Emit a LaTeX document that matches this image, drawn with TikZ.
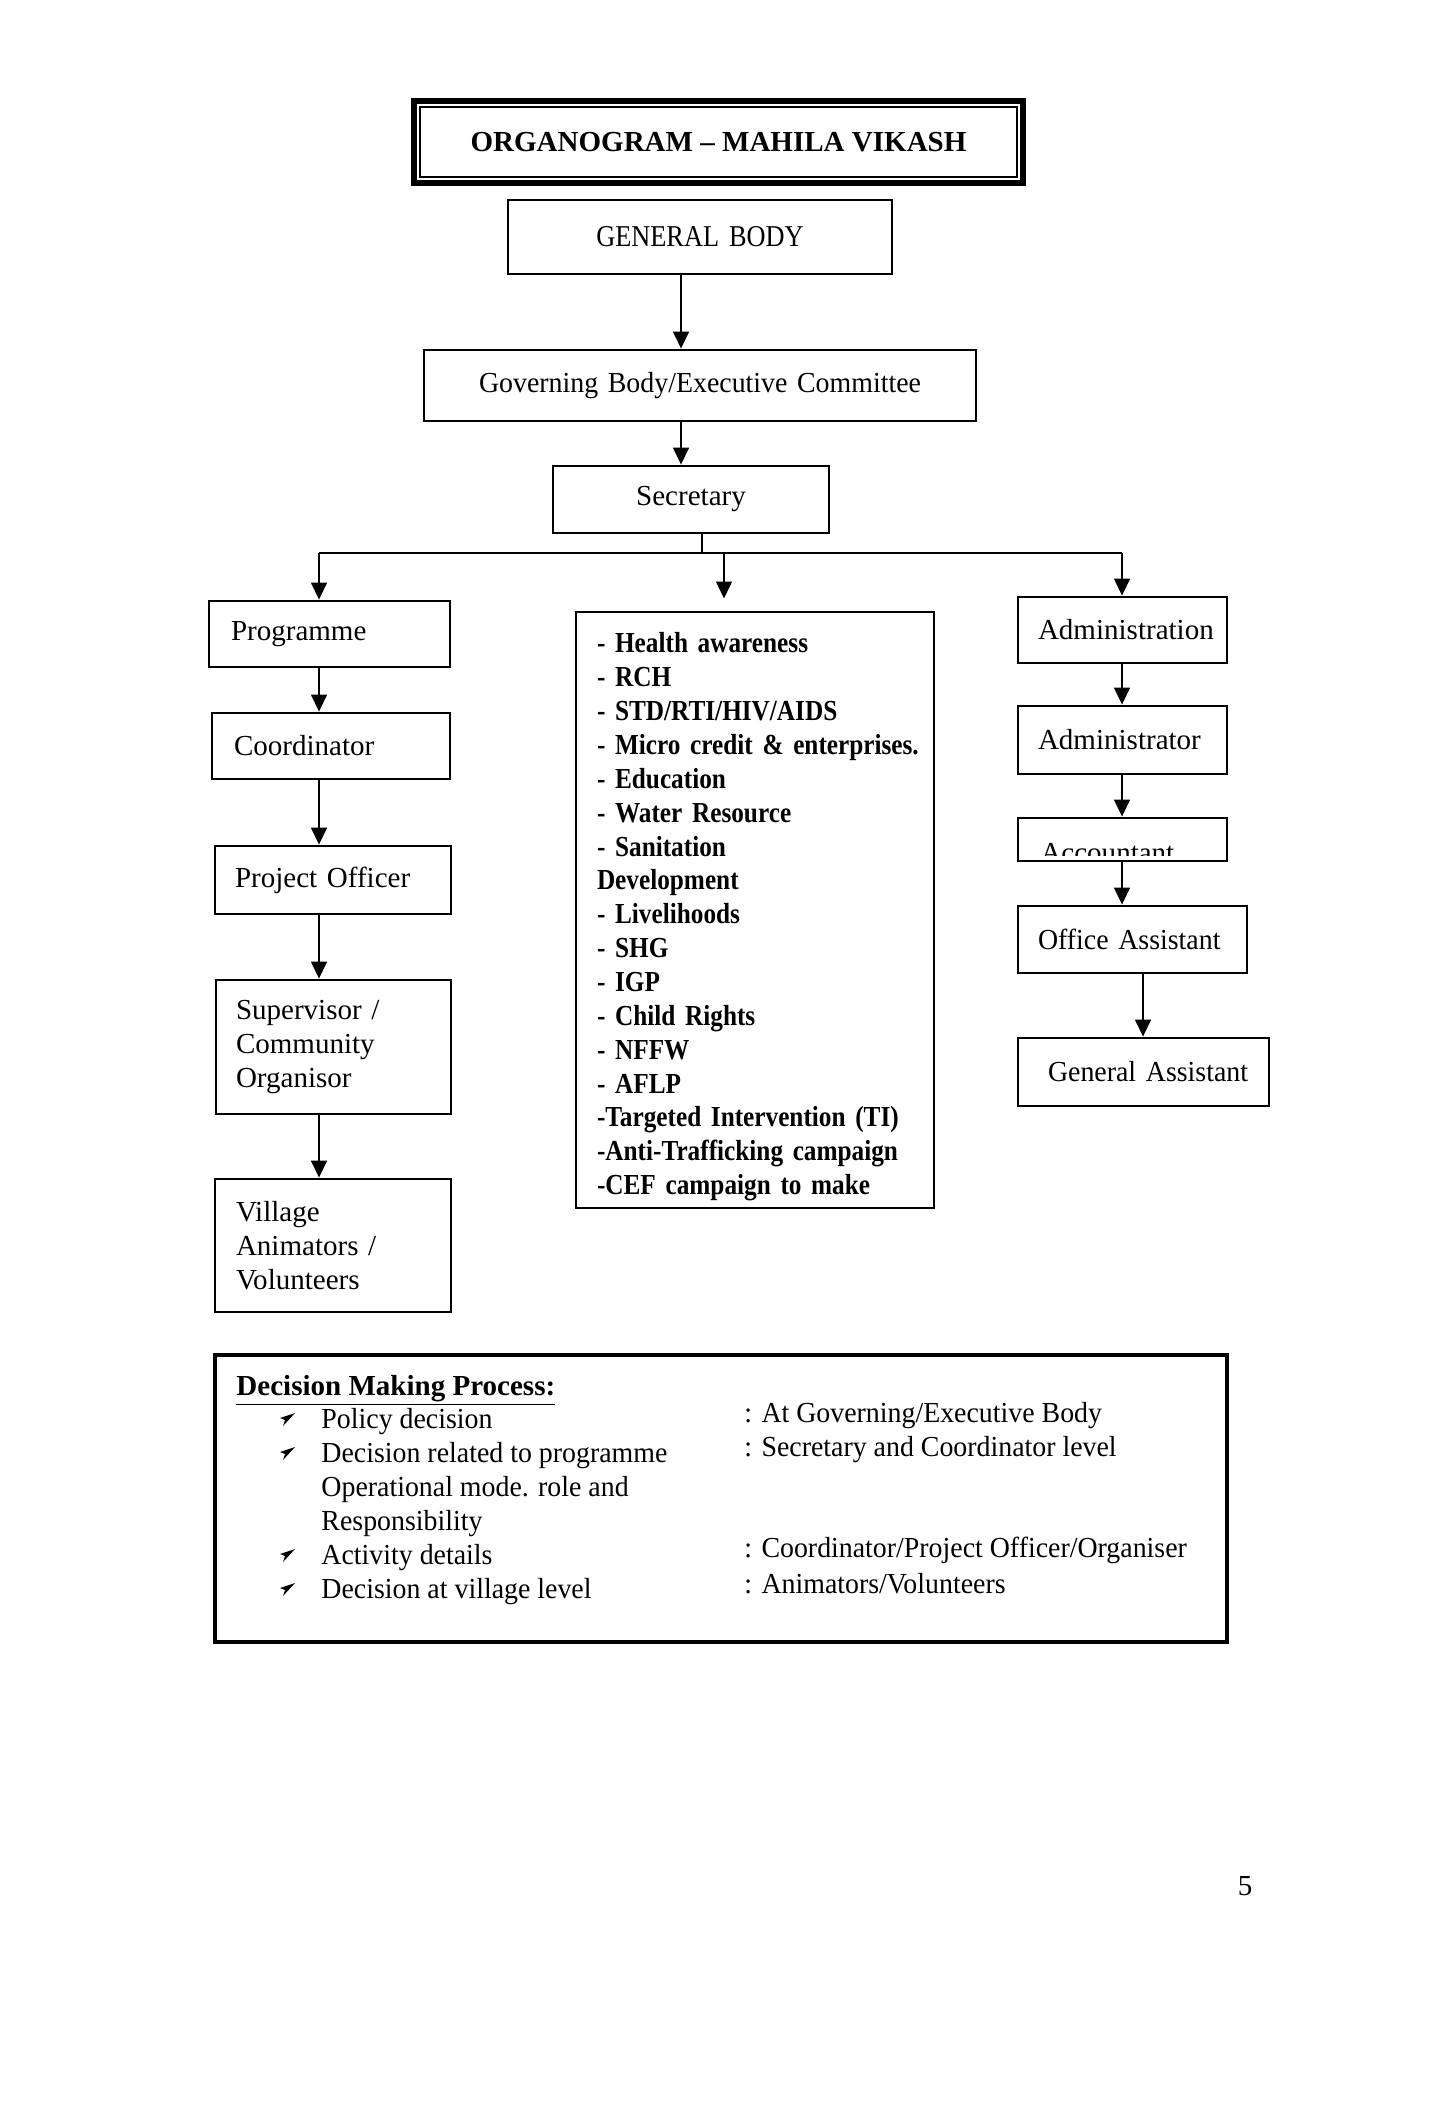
\documentclass[tikz,border=0pt]{standalone}
\usepackage{fontspec}
\setmainfont{Liberation Serif}
\newfontfamily\narrowfont{Liberation Serif}[FakeStretch=0.87]
\newfontfamily\decfont{Liberation Serif}[FakeStretch=0.96]
\usetikzlibrary{arrows.meta}
\newcommand\orgline[1]{\mbox{#1}}
\newcommand\mkbox[8]{% #1 extra style, #2 name, #3 x1, #4 y1, #5 x2, #6 y2, #7 inset, #8 text
  \pgfmathsetmacro\bxw{(#5-#3)*0.4134}%
  \pgfmathsetmacro\bxh{(#6-#4)*0.4134}%
  \pgfmathsetmacro\bxt{(#5-#3-2*#7)*0.4134}%
  \node[orgbox, minimum width=\bxw pt, minimum height=\bxh pt, text width=\bxt pt, #1]
    (#2) at ({(#3+#5)/2},{(#4+#6)/2}) {#8};}
\begin{document}
\begin{tikzpicture}[x=0.4134pt, y=-0.4134pt,
  orgbox/.style={draw, line width=1.1pt, inner sep=0pt, align=left,
    font=\fontsize{12}{14}\selectfont,
    execute at begin node={\hyphenpenalty=10000\exhyphenpenalty=10000\hbadness=10000}},
  ctr/.style={align=center},
  ln/.style={line width=1.1pt},
  arr/.style={line width=1.1pt, -{Triangle[width=6.4pt,length=7pt]}},
  dtext/.style={anchor=base west, inner sep=0pt, font=\decfont\fontsize{12}{14}\selectfont},
  bullet/.style={fill=black}
]
\useasboundingbox[fill=white] (0,0) rectangle (1440,2118);

% title
\node[draw, line width=2.4pt, minimum width=251.8pt, minimum height=33.9pt,
  font=\bfseries\fontsize{12}{14}\selectfont] (title) at (718.5,142) {ORGANOGRAM -- MAHILA VIKASH};
\draw[line width=0.8pt] ([shift={(9,9)}]title.north west) rectangle ([shift={(-9,-9)}]title.south east);

% top chain
\mkbox{ctr, font=\narrowfont\fontsize{12.5}{14}\selectfont}{gb}{508}{200}{892}{274}{0}{\orgline{GENERAL BODY}}
\mkbox{ctr, font=\decfont\fontsize{12}{14}\selectfont}{gov}{424}{350}{976}{421}{0}{\orgline{Governing Body/Executive Committee}}
\mkbox{ctr}{sec}{553}{466}{829}{533}{0}{\orgline{Secretary}}

\coordinate (colC) at (681,0);
\draw[arr] (gb.south -| colC) -- (gov.north -| colC);
\draw[arr] (gov.south -| colC) -- (sec.north -| colC);

% left column
\mkbox{}{prog}{209}{601}{450}{667}{22}{\orgline{Programme}}
\mkbox{}{coord}{212}{713}{450}{779}{22}{\orgline{Coordinator}}
\mkbox{}{po}{215}{846}{451}{914}{20}{\orgline{Project Officer}}
\mkbox{}{sup}{216}{980}{451}{1114}{20}{\orgline{Supervisor /}\\\orgline{Community}\\\orgline{Organisor}}
\mkbox{}{vil}{215}{1179}{451}{1312}{21}{\orgline{Village}\\\orgline{Animators /}\\\orgline{Volunteers}}

% middle box
\mkbox{font=\narrowfont\bfseries\fontsize{12}{14}\selectfont}{mid}{576}{612}{934}{1208}{21}{%
\rule{0pt}{14pt}\orgline{- Health awareness}\\
\orgline{- RCH}\\
\orgline{- STD/RTI/HIV/AIDS}\\
\orgline{- Micro credit \& enterprises.}\\
\orgline{- Education}\\
\orgline{- Water Resource}\\
\orgline{- Sanitation}\\
\orgline{Development}\\
\orgline{- Livelihoods}\\
\orgline{- SHG}\\
\orgline{- IGP}\\
\orgline{- Child Rights}\\
\orgline{- NFFW}\\
\orgline{- AFLP}\\
\orgline{-Targeted Intervention (TI)}\\
\orgline{-Anti-Trafficking campaign}\\
\orgline{-CEF campaign to make}}

% right column
\mkbox{}{adm}{1018}{597}{1227}{663}{20}{\orgline{Administration}}
\mkbox{}{admr}{1018}{706}{1227}{774}{20}{\orgline{Administrator}}
\mkbox{}{acc}{1018}{818}{1227}{861}{0}{}
\begin{scope}
  \clip (1020,820) rectangle (1225,855);
  \node[anchor=base west, inner sep=0pt, font=\fontsize{12}{14}\selectfont] (acctext) at (1040,862) {Accountant};
\end{scope}
\mkbox{font=\decfont\fontsize{12}{14}\selectfont}{oa}{1018}{906}{1247}{973}{20}{\orgline{Office Assistant}}
\mkbox{font=\decfont\fontsize{12}{14}\selectfont}{ga}{1018}{1038}{1269}{1106}{30}{\orgline{General Assistant}}

% bus
\coordinate (busL) at (319,553);
\coordinate (busR) at (1122,553);
\coordinate (busM) at (724,553);
\coordinate (secS) at (702,553);
\draw[ln] (busL) -- (busR);
\draw[ln] (sec.south -| secS) -- (secS);
\draw[arr] (busL) -- (busL |- prog.north);
\draw[arr, shorten >=5pt] (busM) -- (busM |- mid.north);
\draw[arr] (busR) -- (busR |- adm.north);

% left chain
\draw[arr] (prog.south -| busL) -- (coord.north -| busL);
\draw[arr] (coord.south -| busL) -- (po.north -| busL);
\draw[arr] (po.south -| busL) -- (sup.north -| busL);
\draw[arr] (sup.south -| busL) -- (vil.north -| busL);

% right chain
\coordinate (colR2) at (1143,0);
\draw[arr] (adm.south -| busR) -- (admr.north -| busR);
\draw[arr] (admr.south -| busR) -- (acc.north -| busR);
\draw[arr] (acc.south -| busR) -- (oa.north -| busR);
\draw[arr] (oa.south -| colR2) -- (ga.north -| colR2);

% decision box
\mkbox{line width=1.3pt}{dec}{215}{1355}{1227}{1642}{0}{}
\node[dtext, font=\bfseries\fontsize{12}{14}\selectfont] (dtitle) at (236,1395)
  {\underline{Decision Making Process:}};
\node[dtext] (d1) at (321,1428) {Policy decision};
\node[dtext] (d2) at (321,1462) {Decision related to programme};
\node[dtext] (d3) at (321,1496) {Operational mode. role and};
\node[dtext] (d4) at (321,1530) {Responsibility};
\node[dtext] (d5) at (321,1564) {Activity details};
\node[dtext] (d6) at (321,1598) {Decision at village level};
\node[dtext] (r1) at (744,1422) {: At Governing/Executive Body};
\node[dtext] (r2) at (744,1456) {: Secretary and Coordinator level};
\node[dtext] (r3) at (744,1557) {: Coordinator/Project Officer/Organiser};
\node[dtext] (r4) at (744,1593) {: Animators/Volunteers};
\foreach \yy in {1419,1453,1555,1589}{
  \fill[bullet] (295,\yy-6) -- (280,\yy-1) -- (285,\yy+1) -- (283,\yy+7) -- cycle;
}

% page number
\node[font=\fontsize{12}{14}\selectfont, inner sep=0pt] (pnum) at (1245,1886) {5};
\end{tikzpicture}
\end{document}
